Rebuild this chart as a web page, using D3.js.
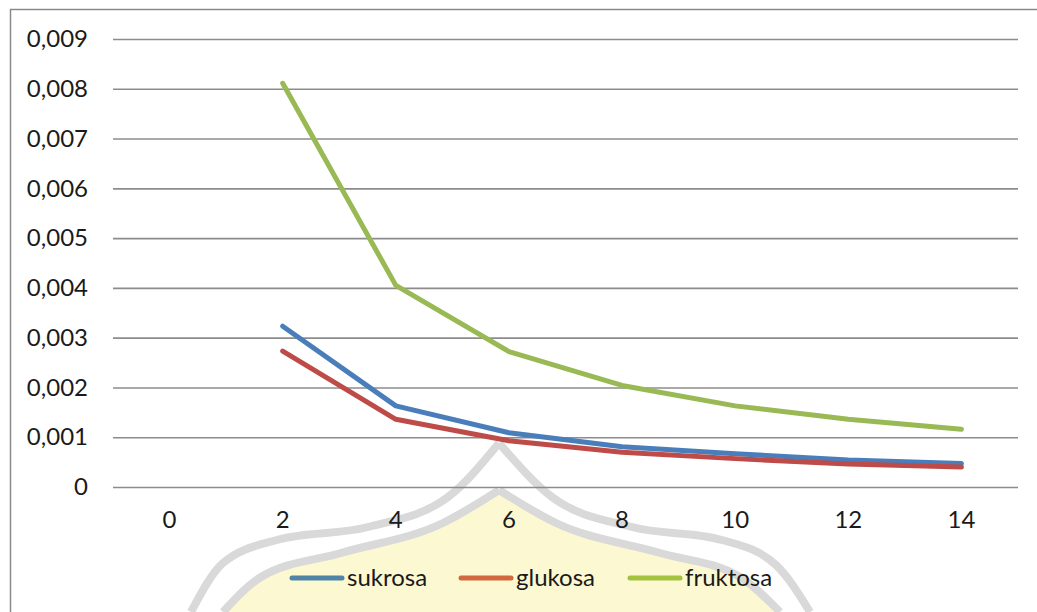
<!DOCTYPE html>
<html>
<head>
<meta charset="utf-8">
<script src="https://cdn.jsdelivr.net/npm/d3@7"></script>
<style>
  html, body { margin: 0; padding: 0; background: #fff; }
  svg { display: block; }
  text { font-family: Lato, "Open Sans", sans-serif; fill: #1a1a1a; }
</style>
</head>
<body>
<svg id="chart" width="1037" height="612"></svg>
<script>
// Categories on the x axis (days)
const categories = ["0", "2", "4", "6", "8", "10", "12", "14"];

// Series values; no measurement at 0
const sukrosa  = [null, 0.00323, 0.00163, 0.00109, 0.00081, 0.00067, 0.00054, 0.00047];
const glukosa  = [null, 0.00273, 0.00136, 0.00093, 0.00070, 0.00057, 0.00046, 0.00040];
const fruktosa = [null, 0.00811, 0.00405, 0.00272, 0.00204, 0.00163, 0.00136, 0.00116];

const seriesNames = ["sukrosa", "glukosa", "fruktosa"];
const yTicks = [0, 0.001, 0.002, 0.003, 0.004, 0.005, 0.006, 0.007, 0.008, 0.009];

const colors = { sukrosa: "#4a7ebb", glukosa: "#be4b48", fruktosa: "#98b954" };
const legendColors = { sukrosa: "#4f84a6", glukosa: "#d0693e", fruktosa: "#a3c23e" };

const svg = d3.select("#chart");
const W = 1037, H = 612;
const plot = { left: 113, right: 1018, top: 39, bottom: 487 };

const x = d3.scaleBand().domain(categories).range([plot.left, plot.right]).padding(0);
const y = d3.scaleLinear().domain([0, 0.009]).range([plot.bottom, plot.top]);

// Background emblem: pointed ogee arch in the lower middle, drawn as two halves
const outerLeft  = [[191,612],[223,563],[277,540],[368,527],[448,497],[499,443]];
const outerRight = [[499,443],[552,497],[632,527],[722,540],[776,565],[810,612]];
const innerLeft  = [[223,612],[261,577],[341,553],[443,523],[499,490]];
const innerRight = [[499,490],[556,523],[660,553],[740,577],[780,612]];
const half = d3.line().curve(d3.curveMonotoneX);
const emblem = svg.append("g");
emblem.append("path")
  .attr("d", half(innerLeft) + half(innerRight).replace(/^M/, "L") + "Z")
  .attr("fill", "#fcf9d2").attr("stroke", "none");
[outerLeft, outerRight, innerLeft, innerRight].forEach(pts => {
  emblem.append("path").attr("d", half(pts))
    .attr("fill", "none").attr("stroke", "#d9d9d9").attr("stroke-width", 8)
    .attr("stroke-linejoin", "miter");
});

// Chart frame: top and left edges
svg.append("path")
  .attr("d", `M10.5,${H} L10.5,9.5 L${W},9.5`)
  .attr("fill", "none").attr("stroke", "#8a8a8a").attr("stroke-width", 1.5);

// Horizontal gridlines and y tick labels
const fmt = v => v === 0 ? "0" : d3.format(".3f")(v).replace(".", ",");
const yAxis = d3.axisLeft(y).tickValues(yTicks).tickFormat(fmt)
  .tickSize(-(plot.right - plot.left)).tickPadding(25);
const gy = svg.append("g").attr("transform", `translate(${plot.left},0)`).call(yAxis);
gy.select(".domain").remove();
gy.selectAll(".tick line").attr("stroke", "#8c8c8c").attr("stroke-width", 1.6);
gy.selectAll(".tick text").attr("font-size", 24).attr("fill", "#1a1a1a")
  .attr("font-family", "Lato, 'Open Sans', sans-serif");

// X axis labels centred in each category band
const xAxis = d3.axisBottom(x).tickSize(0).tickPadding(24);
const gx = svg.append("g").attr("transform", `translate(0,${plot.bottom})`).call(xAxis);
gx.select(".domain").remove();
gx.selectAll(".tick text").attr("font-size", 24).attr("fill", "#1a1a1a")
  .attr("font-family", "Lato, 'Open Sans', sans-serif");

// Series lines
const data = { sukrosa, glukosa, fruktosa };
const line = d3.line()
  .defined(d => d.v != null)
  .x(d => x(d.c) + x.bandwidth() / 2)
  .y(d => y(d.v));

seriesNames.forEach(name => {
  const pts = categories.map((c, i) => ({ c, v: data[name][i] }));
  svg.append("path").datum(pts)
    .attr("d", line)
    .attr("fill", "none")
    .attr("stroke", colors[name])
    .attr("stroke-width", 5)
    .attr("stroke-linejoin", "round")
    .attr("stroke-linecap", "round");
});

// Legend
const legendItems = [
  { name: "sukrosa", x0: 292 },
  { name: "glukosa", x0: 461 },
  { name: "fruktosa", x0: 630 }
];
const legendY = 578;
const lg = svg.append("g");
legendItems.forEach(it => {
  lg.append("line")
    .attr("x1", it.x0).attr("x2", it.x0 + 50)
    .attr("y1", legendY).attr("y2", legendY)
    .attr("stroke", legendColors[it.name]).attr("stroke-width", 5)
    .attr("stroke-linecap", "round");
  lg.append("text")
    .attr("x", it.x0 + 55).attr("y", legendY)
    .attr("dy", "0.35em")
    .attr("font-size", 24)
    .attr("fill", "#2a2a10")
    .text(it.name);
});
</script>
</body>
</html>
